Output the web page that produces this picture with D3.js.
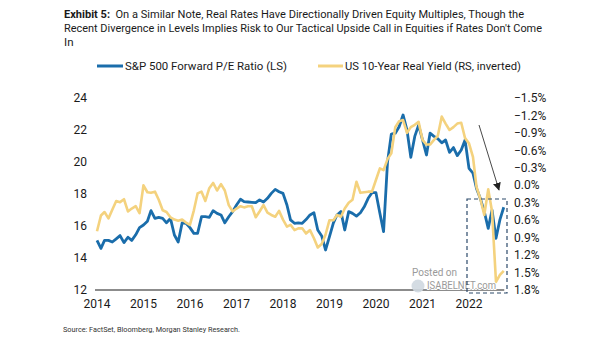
<!DOCTYPE html>
<html>
<head>
<meta charset="utf-8">
<script src="https://cdn.jsdelivr.net/npm/d3@7"></script>
<style>
  body { margin: 0; background: #fff; }
  svg { display: block; font-family: Roboto, "Noto Sans", sans-serif; }
</style>
</head>
<body>
<svg id="chart"></svg>
<script>
// Exhibit 5 — S&P 500 forward P/E (left) vs US 10y real yield (right, inverted)

// monthly, Jan 2014 .. Oct 2022
const startMonth = new Date(2014, 0, 1);

const peRatio = [
  15.1, 14.6, 15.1, 15.1, 15.0, 15.2, 15.4, 14.96, 15.3, 15.1, 15.45, 15.9,
  16.06, 16.3, 16.96, 16.48, 16.54, 16.48, 16.2, 16.48, 15.44, 15.0, 16.2, 16.17,
  15.9, 15.54, 15.54, 16.58, 16.58, 16.54, 16.96, 16.79, 16.69, 16.2, 16.58, 16.9,
  17.31, 17.67, 17.52, 17.5, 17.48, 17.46, 17.63, 17.5, 17.73, 18.04, 18.29, 18.14,
  18.04, 17.31, 16.38, 16.17, 16.2, 16.17, 16.4, 16.69, 16.83, 15.75, 15.38, 14.5,
  15.33, 16.2, 16.69, 16.9, 15.75, 16.9, 16.79, 16.62, 16.83, 17.2, 17.73, 18.08,
  18.08, 16.79, 15.65, 20.0, 21.75, 21.8, 22.2, 22.94, 22.0, 20.29, 21.6, 22.3,
  21.375, 20.44, 21.8, 21.6, 21.45, 21.2, 21.375, 20.6, 20.9, 20.4, 20.75, 21.375,
  19.6, 19.3, 18.35, 17.7, 16.9, 15.85, 17.0, 15.23, 16.4, 17.17
];

const realYield = [
  0.79, 0.52, 0.46, 0.57, 0.42, 0.27, 0.29, 0.24, 0.45, 0.4, 0.36, 0.48,
  0.0, 0.12, 0.13, 0.11, 0.25, 0.43, 0.46, 0.55, 0.59, 0.61, 0.59, 0.64,
  0.68, 0.43, 0.14, 0.11, 0.27, 0.05, -0.04, 0.09, -0.02, 0.09, 0.34, 0.45,
  0.4, 0.36, 0.38, 0.36, 0.36, 0.55, 0.45, 0.34, 0.47, 0.51, 0.54, 0.44,
  0.59, 0.71, 0.68, 0.77, 0.74, 0.74, 0.83, 0.77, 0.91, 1.07, 1.01, 0.85,
  0.6, 0.6, 0.51, 0.54, 0.4, 0.3, 0.25, -0.06, 0.13, 0.12, 0.11, 0.11,
  -0.09, -0.29, -0.26, -0.45, -0.55, -1.0, -1.1, -1.12, -0.9, -1.0, -1.04, -1.09,
  -0.78, -0.7, -0.7, -0.78, -0.85, -1.18, -1.06, -0.95, -1.0, -1.06, -1.075, -0.81,
  -0.72, -0.49, 0.03, 0.24, 0.51, 0.07, 0.45, 1.66, 1.54, 1.47
];

const leftTicks = [12, 14, 16, 18, 20, 22, 24];
const rightTicks = [-1.5, -1.2, -0.9, -0.6, -0.3, 0.0, 0.3, 0.6, 0.9, 1.2, 1.5, 1.8];
const yearTicks = [2014, 2015, 2016, 2017, 2018, 2019, 2020, 2021, 2022];

const seriesNames = ["S&P 500 Forward P/E Ratio (LS)", "US 10-Year Real Yield (RS, inverted)"];
const titleLines = [
  "On a Similar Note, Real Rates Have Directionally Driven Equity Multiples, Though the",
  "Recent Divergence in Levels Implies Risk to Our Tactical Upside Call in Equities if Rates Don't Come",
  "In"
];

(function () {
  const W = 605, H = 341;
  const BLUE = "#1a6dab";
  const GOLD = "#f4d27e";
  const INK = "#1a1a1a";

  const svg = d3.select("#chart").attr("width", W).attr("height", H);

  const months = peRatio.map((_, i) => d3.timeMonth.offset(startMonth, i));

  const x = d3.scaleTime()
    .domain([new Date(2014, 0, 1), new Date(2022, 0, 1)])
    .range([97, 469]);
  const yL = d3.scaleLinear().domain([12, 24]).range([290, 98]);
  const yR = d3.scaleLinear().domain([-1.5, 1.8]).range([98, 290]);

  // title
  const title = svg.append("text")
    .attr("font-size", 11.5).attr("fill", INK);
  const t1 = title.append("tspan").attr("x", 64).attr("y", 18);
  t1.append("tspan").attr("font-weight", 700).text("Exhibit 5:");
  t1.append("tspan").text("\u00a0\u00a0" + titleLines[0]);
  svg.append("text").attr("x", 64).attr("y", 32)
    .attr("font-size", 11.5).attr("fill", INK)
    .attr("textLength", 478).attr("lengthAdjust", "spacingAndGlyphs")
    .text(titleLines[1]);
  svg.append("text").attr("x", 64).attr("y", 46)
    .attr("font-size", 11.5).attr("fill", INK)
    .text(titleLines[2]);
  title.attr("textLength", 460).attr("lengthAdjust", "spacingAndGlyphs");

  // legend
  const lg = svg.append("g");
  [[97, 123, BLUE, 125, 162], [318, 343, GOLD, 345, 176]].forEach((d, i) => {
    lg.append("line").attr("x1", d[0]).attr("x2", d[1]).attr("y1", 66).attr("y2", 66)
      .attr("stroke", d[2]).attr("stroke-width", 3);
    lg.append("text").attr("x", d[3]).attr("y", 66).attr("dy", "0.35em")
      .attr("font-size", 11.5).attr("fill", INK)
      .attr("textLength", d[4]).attr("lengthAdjust", "spacingAndGlyphs")
      .text(seriesNames[i]);
  });

  // left axis labels
  svg.append("g").selectAll("text").data(leftTicks).enter().append("text")
    .attr("x", 87).attr("y", d => yL(d)).attr("dy", "0.35em")
    .attr("text-anchor", "end").attr("font-size", 12).attr("fill", INK)
    .text(d => d);

  // right axis labels
  svg.append("g").selectAll("text").data(rightTicks).enter().append("text")
    .attr("x", 514).attr("y", d => yR(d)).attr("dy", "0.35em")
    .attr("font-size", 12).attr("fill", INK)
    .text(d => d3.format(".1f")(d) + "%");

  // x labels
  svg.append("g").selectAll("text").data(yearTicks).enter().append("text")
    .attr("x", d => x(new Date(d, 0, 1))).attr("y", 304).attr("dy", "0.35em")
    .attr("text-anchor", "middle").attr("font-size", 12).attr("fill", INK)
    .text(d => d);

  // baseline
  svg.append("line")
    .attr("x1", 95).attr("x2", x(months[months.length - 1]) + 0.5)
    .attr("y1", yL(12)).attr("y2", yL(12))
    .attr("stroke", INK).attr("stroke-width", 1.2);

  // series
  const lineL = d3.line().x((d, i) => x(months[i])).y(d => yL(d));
  const lineR = d3.line().x((d, i) => x(months[i])).y(d => yR(d));

  svg.append("path").datum(peRatio).attr("d", lineL)
    .attr("fill", "none").attr("stroke", BLUE).attr("stroke-width", 2.8)
    .attr("stroke-linejoin", "round");
  svg.append("path").datum(realYield).attr("d", lineR)
    .attr("fill", "none").attr("stroke", GOLD).attr("stroke-width", 2.6)
    .attr("stroke-linejoin", "round");

  // watermark, sits over the lines
  const wm = svg.append("g").attr("fill", "#9a9a9a");
  wm.append("circle").attr("cx", 418).attr("cy", 286).attr("r", 6.5)
    .attr("fill", "#cfd8e0").attr("opacity", 0.9);
  wm.append("text").attr("x", 412).attr("y", 272).attr("dy", "0.35em")
    .attr("font-size", 10).text("Posted on");
  wm.append("text").attr("x", 427).attr("y", 285).attr("dy", "0.35em")
    .attr("font-size", 11).attr("textLength", 69).attr("lengthAdjust", "spacingAndGlyphs")
    .attr("stroke", "#fff").attr("stroke-width", 2).attr("paint-order", "stroke")
    .text("ISABELNET.com");

  // dashed highlight box over the latest months
  svg.append("rect")
    .attr("x", 467).attr("y", 199).attr("width", 40).attr("height", 94)
    .attr("fill", "none").attr("stroke", "#2c4a6b").attr("stroke-width", 1.2)
    .attr("stroke-dasharray", "4 3");

  // arrow
  svg.append("defs").append("marker")
    .attr("id", "ah").attr("viewBox", "0 0 10 10").attr("refX", 9).attr("refY", 5)
    .attr("markerWidth", 8).attr("markerHeight", 8).attr("orient", "auto")
    .attr("markerUnits", "userSpaceOnUse")
    .append("path").attr("d", "M0,0 L10,5 L0,10 Z").attr("fill", "#222");
  svg.append("line")
    .attr("x1", 479).attr("y1", 125).attr("x2", 499).attr("y2", 190)
    .attr("stroke", "#333").attr("stroke-width", 0.9)
    .attr("marker-end", "url(#ah)");

  // source
  svg.append("text").attr("x", 63).attr("y", 329).attr("dy", "0.35em")
    .attr("font-size", 8).attr("fill", "#333")
    .attr("textLength", 177).attr("lengthAdjust", "spacingAndGlyphs")
    .text("Source: FactSet, Bloomberg, Morgan Stanley Research.");
})();
</script>
</body>
</html>
